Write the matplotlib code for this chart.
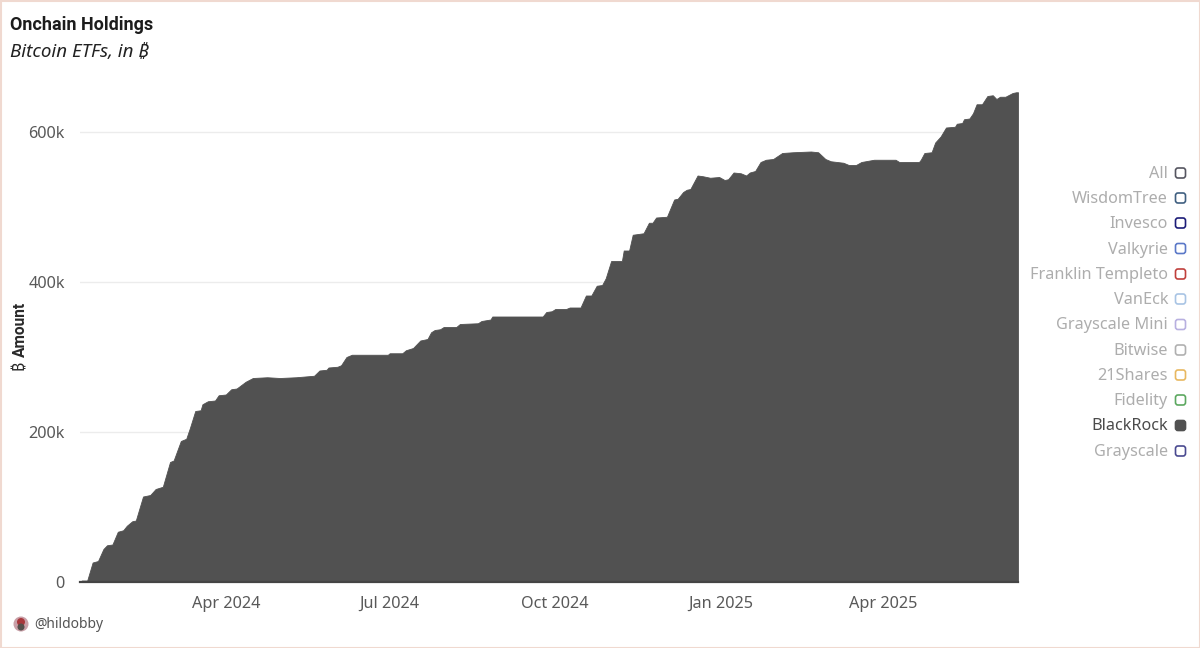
"""Onchain Bitcoin ETF holdings, BlackRock series selected."""
import pandas as pd
import matplotlib
matplotlib.use('Agg')
import matplotlib.pyplot as plt
from matplotlib.patches import Circle, FancyBboxPatch, Rectangle

plt.rcParams['font.family'] = ['Noto Sans', 'DejaVu Sans']

START_DATE = '2024-01-11'

# days since START_DATE
days = [0, 1, 4, 7, 10, 13, 15, 18, 21, 24, 26, 29, 31, 35, 39, 42, 46, 50, 52, 56,
        59, 61, 64, 67, 68, 71, 75, 77, 81, 84, 87, 92, 96, 104, 111, 120, 130, 133,
        137, 138, 143, 145, 148, 151, 159, 171, 172, 179, 181, 185, 189, 193, 195,
        197, 200, 202, 209, 211, 221, 223, 228, 229, 257, 259, 262, 264, 270, 272,
        278, 281, 284, 287, 290, 292, 295, 300, 301, 302, 305, 307, 313, 316, 318,
        320, 326, 330, 332, 335, 337, 339, 343, 346, 350, 355, 358, 360, 363, 367,
        370, 372, 375, 378, 381, 385, 390, 396, 406, 410, 414, 417, 424, 427, 431,
        434, 441, 453, 455, 466, 467, 469, 473, 475, 478, 481, 486, 487, 490, 491,
        494, 496, 498, 501, 504, 507, 509, 511, 514, 518, 520, 521]

# BlackRock holdings, thousands of BTC
blackrock_k = [0, 2, 2, 26, 28, 44, 49, 50, 67, 69, 75, 81, 82, 114, 116, 124, 127, 160, 162, 188,
               191, 205, 228, 229, 237, 241, 242, 249, 250, 257, 258, 267, 272, 273, 272, 273, 275, 282,
               283, 286, 287, 289, 300, 303, 303, 303, 305, 305, 309, 312, 322, 324, 333,
               336, 337, 340, 340, 344, 345, 348, 350, 354, 354, 360, 361, 364, 364, 366,
               366, 382, 382, 395, 396, 405, 428, 428, 428, 442, 442, 463, 465, 479, 479,
               486, 487, 510, 511, 520, 523, 524, 542, 541, 539, 540, 536, 537, 546, 545,
               542, 546, 548, 560, 563, 564, 572, 573, 574, 573, 564, 561, 559, 556, 556,
               560, 563, 563, 560, 560, 563, 572, 573, 586, 594, 606, 607, 611, 612, 617,
               618, 625, 637, 637, 648, 649, 644, 647, 647, 652, 653, 653]

y_ticks = [0, 200, 400, 600]
y_tick_labels = ['0', '200k', '400k', '600k']
x_ticks = ['2024-04-01', '2024-07-01', '2024-10-01', '2025-01-01', '2025-04-01']
x_tick_labels = ['Apr 2024', 'Jul 2024', 'Oct 2024', 'Jan 2025', 'Apr 2025']

legend_names = ['All', 'WisdomTree', 'Invesco', 'Valkyrie', 'Franklin Templeto', 'VanEck',
                'Grayscale Mini', 'Bitwise', '21Shares', 'Fidelity', 'BlackRock', 'Grayscale']
legend_colors = ['#555560', '#3f5f80', '#1c1c78', '#5a78c8', '#c0403c', '#a8c4e4',
                 '#b8b0e0', '#b0b0b0', '#e8b860', '#5ca860', '#515151', '#4a4a90']

W, H = 1200, 648
AREA_COLOR = '#515151'
BOLD_FONT = ['Roboto', 'DejaVu Sans']


def fx(px):
    return px / W


def fy(py):
    return 1 - py / H


dates = pd.Timestamp(START_DATE) + pd.to_timedelta(days, unit='D')

fig = plt.figure(figsize=(12, 6.48), dpi=100, facecolor='white')

# axes box in pixels: x 80..1018, 0 sits at y=582, 600k at y=132
ax = fig.add_axes([fx(80), fy(582), fx(938), (582 - 79.5) / H])
ax.fill_between(dates, 0, blackrock_k, color=AREA_COLOR, linewidth=0.6, zorder=2)
ax.axhline(0, color='#444444', linewidth=1.6, clip_on=False, zorder=3)

ax.set_xlim(dates[0], dates[-1])
ax.set_ylim(0, 670)
ax.set_yticks(y_ticks)
ax.set_yticklabels(y_tick_labels)
ax.set_xticks(pd.to_datetime(x_ticks))
ax.set_xticklabels(x_tick_labels)
ax.tick_params(axis='both', length=0, labelsize=11.7, labelcolor='#595959')
ax.tick_params(axis='x', pad=10)
ax.tick_params(axis='y', pad=11)
ax.grid(axis='y', color='#ececec', linewidth=1, zorder=0)
ax.set_axisbelow(True)
for spine in ax.spines.values():
    spine.set_visible(False)

# bold faces have no bitcoin sign, so the symbol is set apart in regular weight
fig.text(fx(20), fy(329.5), 'Amount', rotation=90, ha='center', va='center', family=BOLD_FONT,
         fontsize=11.2, fontweight='bold', color='#2a2a2a')
fig.text(fx(20), fy(365), '₿', rotation=90, ha='center', va='center',
         fontsize=11.5, color='#2a2a2a')

fig.text(fx(10), fy(25), 'Onchain Holdings', ha='left', va='center', family=BOLD_FONT,
         fontsize=13, fontweight='bold', color='#1c1c1c')
fig.text(fx(10), fy(52), 'Bitcoin ETFs, in ₿', ha='left', va='center',
         fontsize=13.5, style='italic', color='#222222')

# legend down the right side
legend_y = [174, 199, 224, 249.5, 275, 300, 325.5, 351, 376, 401, 426.5, 452]
marker_y = [173, 198, 223, 248.5, 274, 299, 324.5, 350, 375, 400, 425.5, 451]
for name, color, py, my in zip(legend_names, legend_colors, legend_y, marker_y):
    active = name == 'BlackRock'
    fig.text(fx(1168), fy(py), name, ha='right', va='center', fontsize=11.7,
             color='#4a4a4a' if active else '#adadad')
    fig.add_artist(FancyBboxPatch((1175.5, H - my - 5), 10, 10, boxstyle='round,pad=0,rounding_size=2.5',
                                  transform=None, linewidth=1.2, edgecolor=color,
                                  facecolor=color if active else 'white'))

# footer handle with little avatar
fig.add_artist(Circle((21, H - 624), 7.5, transform=None, facecolor='#c9a0a8', edgecolor='none'))
fig.add_artist(Circle((21, H - 622), 4, transform=None, facecolor='#a8383c', edgecolor='none'))
fig.add_artist(Circle((21, H - 627), 3.5, transform=None, facecolor='#55504c', edgecolor='none'))
fig.text(fx(34), fy(624.5), '@hildobby', ha='left', va='center', fontsize=10, color='#555555')

# thin pale border of the screenshot
fig.add_artist(Rectangle((0.5, 0.5), W - 1, H - 1, transform=None, fill=False,
                         edgecolor='#f0d9d0', linewidth=1.5))

fig.savefig('out.png', dpi=100, facecolor='white')
